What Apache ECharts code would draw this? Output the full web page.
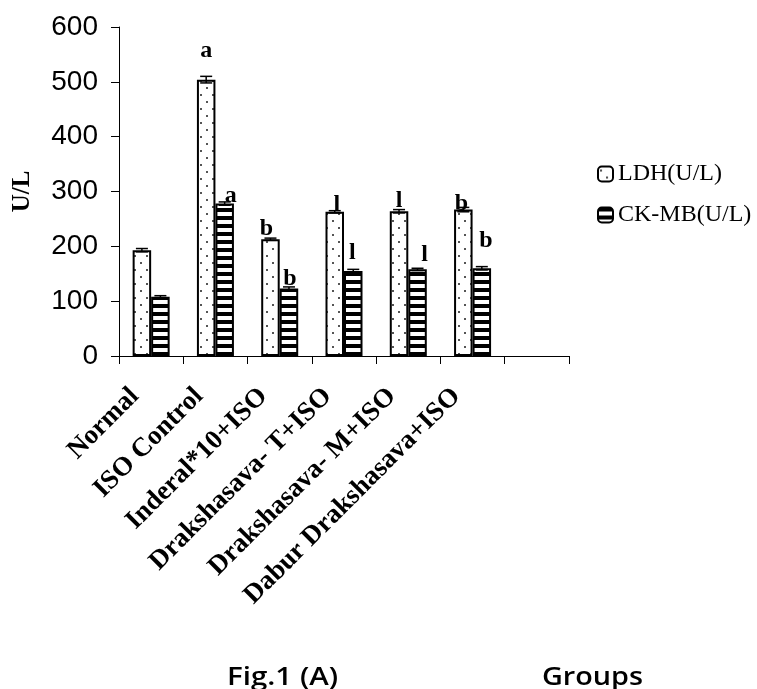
<!DOCTYPE html>
<html>
<head>
<meta charset="utf-8">
<script src="https://cdn.jsdelivr.net/npm/echarts@6/dist/echarts.min.js"></script>
<style>
html,body{margin:0;padding:0;background:#fff;}
#c{width:757px;height:689px;}
</style>
</head>
<body>
<div id="c"></div>
<script>
// ---- data ----
const categories = ['Normal', 'ISO Control', 'Inderal*10+ISO', 'Drakshasava- T+ISO', 'Drakshasava- M+ISO', 'Dabur Drakshasava+ISO', ''];
const ldhValues = [193, 504, 213, 263, 264, 267, null];
const ckValues  = [108, 278, 123, 155, 158, 160, null];
const ldhErr = [3, 6, 2, 2, 3, 4, null];
const ckErr  = [2, 3, 3, 3, 2, 3, null];
const ldhSig = ['', 'a', 'b', 'l', 'l', 'b', ''];
const ckSig  = ['', 'a', 'b', 'l', 'l', 'b', ''];
const seriesNames = ['LDH(U/L)', 'CK-MB(U/L)'];
const yTicks = [0, 100, 200, 300, 400, 500, 600];

// ---- styling (label nudges, not data) ----
const ldhSigOffset = [[0,0],[0,-17],[-4,2],[2,5],[0,2],[-2,6],[0,0]];
const ckSigOffset  = [[0,0],[6,4],[1,2],[-1,-6],[7,-3],[4,-15],[0,0]];
const BAR_W = 18.5;

function dotPattern(){
  const c = document.createElement('canvas');
  c.width = 12; c.height = 14;
  const g = c.getContext('2d');
  g.fillStyle = '#fff'; g.fillRect(0,0,12,14);
  g.fillStyle = '#555';
  g.fillRect(2,3,2,2);
  g.fillRect(8,10,2,2);
  return c;
}
function stripePattern(){
  const c = document.createElement('canvas');
  c.width = 4; c.height = 8;
  const g = c.getContext('2d');
  g.fillStyle = '#fff'; g.fillRect(0,0,4,8);
  g.fillStyle = '#000'; g.fillRect(0,0,4,4);
  return c;
}
const dotFill = {image: dotPattern(), repeat: 'repeat'};
const stripeFill = {image: stripePattern(), repeat: 'repeat'};

const sigFont = {fontFamily: 'Liberation Serif', fontWeight: 'bold', fontSize: 24, color: '#000'};

function barData(vals, sig, offs){
  return vals.map((v, i) => ({
    value: v,
    label: sig[i] ? Object.assign({show: true, position: 'top', distance: 0, formatter: sig[i], offset: offs[i]}, sigFont) : {show: false}
  }));
}
function errData(vals, errs){
  const out = [];
  vals.forEach((v, i) => { if (v != null) out.push([i, v, errs[i]]); });
  return out;
}
function errRender(shift){
  return function(params, api){
    const i = api.value(0), v = api.value(1), e = api.value(2);
    const t = api.coord([i, v + e]);
    const b = api.coord([i, v - e]);
    const x = t[0] + shift;
    const cap = 6;
    const st = {stroke: '#000', lineWidth: 1.5};
    return {type: 'group', children: [
      {type: 'line', shape: {x1: x, y1: t[1], x2: x, y2: b[1]}, style: st},
      {type: 'line', shape: {x1: x - cap, y1: t[1], x2: x + cap, y2: t[1]}, style: st},
      {type: 'line', shape: {x1: x - cap, y1: b[1], x2: x + cap, y2: b[1]}, style: st}
    ]};
  };
}

const chart = echarts.init(document.getElementById('c'), null, {renderer: 'canvas'});
chart.setOption({
  animation: false,
  backgroundColor: '#fff',
  grid: {left: 119, top: 27, width: 450, height: 329, containLabel: false},
  legend: {
    orient: 'vertical', left: 592, top: 157,
    itemWidth: 15, itemHeight: 15, itemGap: 17,
    textStyle: {fontFamily: 'Liberation Serif', fontSize: 24, color: '#000'},
    data: seriesNames
  },
  xAxis: {
    type: 'category', data: categories,
    axisLine: {lineStyle: {color: '#000', width: 1}},
    axisTick: {show: true, length: 8, alignWithLabel: false, interval: 0, lineStyle: {color: '#000'}},
    axisLabel: {interval: 0, rotate: 45, margin: 20, padding: [0, 23, 0, 0],
      fontFamily: 'Liberation Serif', fontWeight: 'bold', fontSize: 27, color: '#000'}
  },
  yAxis: {
    type: 'value', min: 0, max: 600, interval: 100,
    name: 'U/L', nameLocation: 'middle', nameRotate: 90, nameGap: 84,
    nameTextStyle: {fontFamily: 'Liberation Serif', fontWeight: 'bold', fontSize: 25, color: '#000'},
    axisLine: {show: true, lineStyle: {color: '#000', width: 1}},
    axisTick: {show: true, length: 8, lineStyle: {color: '#000'}},
    splitLine: {show: false},
    axisLabel: {margin: 21, fontFamily: 'Liberation Sans', fontSize: 28, color: '#000',
      formatter: v => yTicks.indexOf(v) >= 0 ? String(v) : ''}
  },
  graphic: [
    {type: 'text', x: 227, y: 678, scaleX: 1.18, style: {text: 'Fig.1 (A)', font: '600 25px "Open Sans"', fill: '#000', textVerticalAlign: 'middle'}},
    {type: 'text', x: 542, y: 678, scaleX: 1.15, style: {text: 'Groups', font: '600 25px "Open Sans"', fill: '#000', textVerticalAlign: 'middle'}}
  ],
  series: [
    {name: seriesNames[0], type: 'bar', barWidth: BAR_W, barGap: '0%',
      itemStyle: {color: dotFill, borderColor: '#000', borderWidth: 2},
      data: barData(ldhValues, ldhSig, ldhSigOffset), z: 2},
    {name: seriesNames[1], type: 'bar', barWidth: BAR_W, barGap: '0%',
      itemStyle: {color: stripeFill, borderColor: '#000', borderWidth: 2},
      data: barData(ckValues, ckSig, ckSigOffset), z: 2},
    {type: 'custom', renderItem: errRender(-BAR_W/2), data: errData(ldhValues, ldhErr), z: 5, silent: true},
    {type: 'custom', renderItem: errRender(BAR_W/2), data: errData(ckValues, ckErr), z: 5, silent: true}
  ]
});
</script>
</body>
</html>
